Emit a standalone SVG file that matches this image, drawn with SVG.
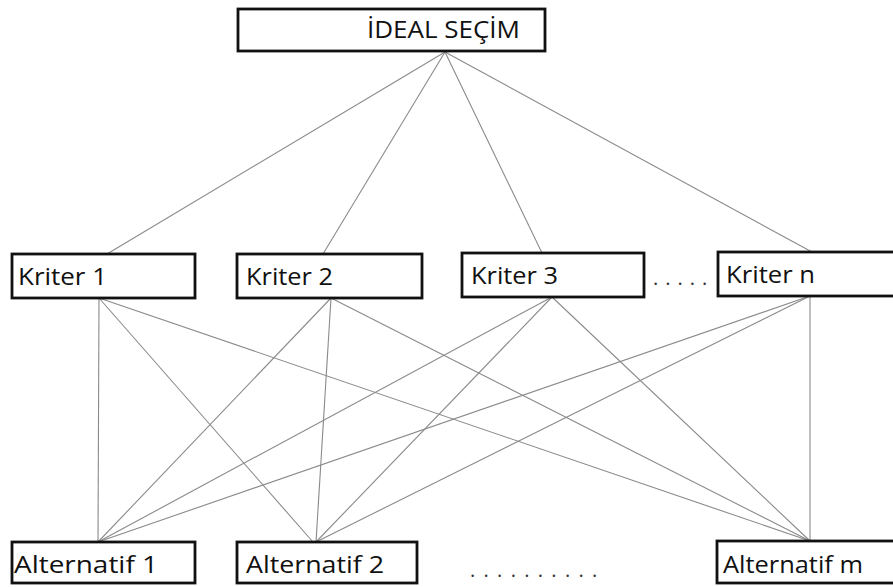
<svg xmlns="http://www.w3.org/2000/svg" width="893" height="587" viewBox="0 0 893 587">
<style>
.box{fill:#fff;stroke:#111;stroke-width:2.8}
.lbl{font-family:"Open Sans","Liberation Sans",sans-serif;font-size:24px;fill:#111}
.dots{font-family:"Open Sans","Liberation Sans",sans-serif;font-size:20px;fill:#333}
.c{stroke:#8a8a8a;stroke-width:1.1;fill:none}
</style>
<rect width="893" height="587" fill="#fff"/>
<g id="connectors">
<line class="c" x1="445" y1="52" x2="107" y2="254"/>
<line class="c" x1="445" y1="52" x2="323" y2="254"/>
<line class="c" x1="445" y1="52" x2="542" y2="253"/>
<line class="c" x1="445" y1="52" x2="812" y2="252"/>
<line class="c" x1="99" y1="298" x2="98" y2="542"/>
<line class="c" x1="99" y1="298" x2="313" y2="542"/>
<line class="c" x1="99" y1="298" x2="810" y2="541"/>
<line class="c" x1="331" y1="298" x2="98" y2="542"/>
<line class="c" x1="331" y1="298" x2="316" y2="542"/>
<line class="c" x1="331" y1="298" x2="810" y2="541"/>
<line class="c" x1="552" y1="297" x2="98" y2="542"/>
<line class="c" x1="552" y1="297" x2="316" y2="542"/>
<line class="c" x1="552" y1="297" x2="810" y2="541"/>
<line class="c" x1="810" y1="296" x2="98" y2="542"/>
<line class="c" x1="810" y1="296" x2="316" y2="542"/>
<line class="c" x1="810" y1="296" x2="810" y2="541"/>
</g>
<g id="ideal">
<rect class="box" x="238" y="9" width="307" height="42"/>
<text class="lbl" x="367" y="38" textLength="153" lengthAdjust="spacingAndGlyphs">İDEAL SEÇİM</text>
</g>
<g id="kriter1">
<rect class="box" x="12" y="254" width="183" height="44"/>
<text class="lbl" x="18" y="285" textLength="89" lengthAdjust="spacingAndGlyphs">Kriter 1</text>
</g>
<g id="kriter2">
<rect class="box" x="237" y="254" width="185" height="44"/>
<text class="lbl" x="246" y="285" textLength="87" lengthAdjust="spacingAndGlyphs">Kriter 2</text>
</g>
<g id="kriter3">
<rect class="box" x="462" y="253" width="182" height="44"/>
<text class="lbl" x="471" y="284" textLength="87" lengthAdjust="spacingAndGlyphs">Kriter 3</text>
</g>
<text class="dots" x="653" y="285" letter-spacing="7">.....</text>
<g id="kritern">
<rect class="box" x="718" y="252" width="180" height="44"/>
<text class="lbl" x="726" y="283" textLength="89" lengthAdjust="spacingAndGlyphs">Kriter n</text>
</g>
<g id="alt1">
<rect class="box" x="12" y="542" width="183" height="41"/>
<text class="lbl" x="14" y="573" textLength="144" lengthAdjust="spacingAndGlyphs">Alternatif 1</text>
</g>
<g id="alt2">
<rect class="box" x="237" y="542" width="180" height="41"/>
<text class="lbl" x="246" y="573" textLength="138" lengthAdjust="spacingAndGlyphs">Alternatif 2</text>
</g>
<text class="dots" x="470" y="577" letter-spacing="8.3">..........</text>
<g id="altm">
<rect class="box" x="717" y="541" width="180" height="42"/>
<text class="lbl" x="723" y="573" textLength="140" lengthAdjust="spacingAndGlyphs">Alternatif m</text>
</g>
</svg>
